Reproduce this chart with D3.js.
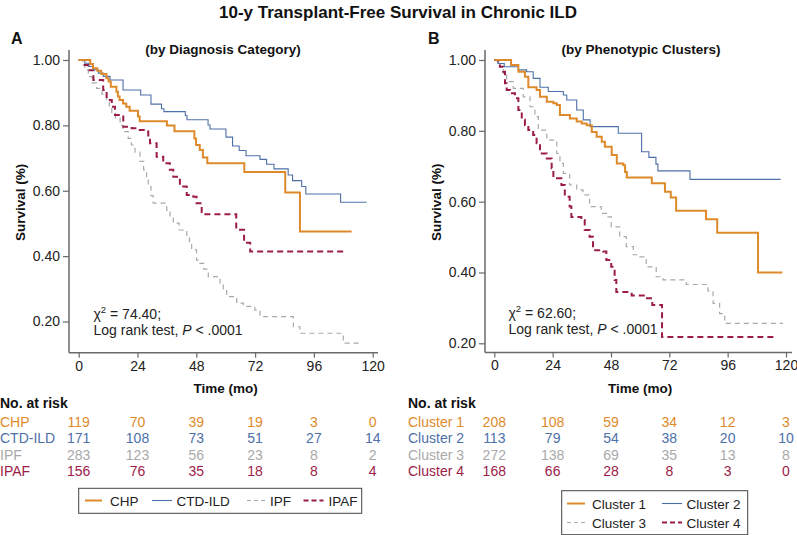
<!DOCTYPE html>
<html><head><meta charset="utf-8">
<script src="https://cdn.jsdelivr.net/npm/d3@7"></script>
<style>
body{margin:0;background:#fff;}
svg{font-family:"Liberation Sans",Arial,Helvetica,sans-serif;}
</style></head>
<body>
<svg id="chart" width="797" height="535"></svg>
<script>
// ---------- DATA ----------
const xTicks = [0, 24, 48, 72, 96, 120];
const yTicks = [0.2, 0.4, 0.6, 0.8, 1.0];

// Panel A (by Diagnosis Category): [month, survival] step points
const chp = [[0,1],[4.7,0.988],[5.8,0.975],[7.6,0.967],[9.2,0.957],[11.3,0.944],[12.2,0.934],[13.1,0.918],[15.4,0.903],[16.0,0.888],[16.7,0.878],[18.1,0.867],[19.4,0.857],[20.8,0.845],[24.2,0.827],[24.9,0.813],[36.0,0.800],[39.1,0.782],[47.2,0.760],[47.9,0.740],[49.4,0.725],[50.7,0.702],[52.5,0.684],[67.6,0.657],[84.3,0.595],[90.3,0.475],[111.4,0.475]];
const ctd = [[0,1],[2.5,0.99],[4.2,0.98],[6.0,0.97],[8.0,0.96],[10.0,0.95],[12.8,0.939],[18.1,0.908],[25.3,0.893],[29.5,0.865],[33.8,0.851],[34.8,0.842],[43.5,0.830],[44.2,0.817],[52.8,0.801],[53.6,0.789],[60.1,0.764],[62.8,0.737],[65.5,0.723],[68.3,0.707],[74.0,0.696],[76.7,0.681],[79.7,0.667],[85.5,0.648],[87.3,0.631],[91.0,0.613],[92.7,0.590],[106.9,0.565],[117.5,0.565]];
const ipf = [[0,1],[1.5,0.985],[2.5,0.97],[3.9,0.949],[5.5,0.93],[7.3,0.913],[9.5,0.895],[11.4,0.878],[12.5,0.857],[13.5,0.837],[15.0,0.822],[16.9,0.800],[18.0,0.781],[20.2,0.760],[21.5,0.740],[23.0,0.718],[25.0,0.690],[26.5,0.664],[27.7,0.643],[28.4,0.613],[29.5,0.585],[30.4,0.562],[35.9,0.541],[37.3,0.520],[38.6,0.501],[41.0,0.480],[44.1,0.460],[45.2,0.440],[46.1,0.419],[48.1,0.388],[49.5,0.378],[51.0,0.360],[52.9,0.337],[57.7,0.317],[59.0,0.297],[60.4,0.276],[64.5,0.256],[67.2,0.246],[71.9,0.235],[74.0,0.215],[87.6,0.184],[90.3,0.164],[108.0,0.134],[114.8,0.134]];
const ipaf = [[0,1],[1.9,0.985],[3.9,0.969],[6.0,0.939],[10.0,0.908],[11.4,0.878],[13.5,0.857],[14.8,0.832],[18.2,0.796],[21.6,0.791],[23.7,0.786],[27.7,0.781],[28.4,0.763],[29.1,0.745],[31.8,0.704],[34.5,0.684],[37.2,0.664],[38.6,0.643],[41.3,0.613],[44.1,0.587],[46.8,0.582],[48.1,0.562],[50.2,0.528],[64.3,0.481],[67.5,0.441],[70.0,0.414],[108.7,0.414]];

// Panel B (by Phenotypic Clusters)
const cl1 = [[0,1],[6.9,0.986],[9.9,0.967],[12.6,0.953],[14.0,0.923],[17.4,0.915],[18.8,0.896],[21.6,0.882],[24.3,0.878],[25.7,0.873],[27.0,0.845],[31.1,0.835],[33.9,0.826],[36.0,0.821],[38.0,0.816],[40.1,0.797],[42.1,0.783],[44.2,0.769],[45.5,0.755],[48.3,0.732],[50.4,0.708],[53.1,0.703],[53.8,0.684],[54.5,0.668],[64.8,0.652],[70.2,0.628],[72.6,0.612],[74.8,0.574],[87.1,0.550],[91.7,0.512],[108.5,0.400],[118.5,0.400]];
const cl2 = [[0,1],[1.5,0.99],[4.1,0.981],[9.9,0.972],[13.3,0.967],[16.0,0.948],[18.8,0.923],[22.2,0.911],[28.4,0.901],[29.8,0.887],[33.9,0.859],[36.6,0.831],[39.4,0.812],[51.0,0.793],[60.6,0.741],[63.6,0.725],[66.5,0.706],[67.3,0.687],[80.5,0.663],[117.8,0.663]];
const cl3 = [[0,1],[1.2,0.99],[2.3,0.981],[3.7,0.958],[5.1,0.939],[7.8,0.920],[11.9,0.896],[14.7,0.868],[16.7,0.840],[18.1,0.802],[21.6,0.774],[25.7,0.736],[27.0,0.708],[28.4,0.680],[31.0,0.647],[33.9,0.633],[36.5,0.619],[39.2,0.586],[44.0,0.567],[46.1,0.557],[48.1,0.529],[51.6,0.501],[54.3,0.473],[57.2,0.450],[59.1,0.444],[62.5,0.416],[66.6,0.388],[69.4,0.379],[79.0,0.366],[87.9,0.348],[90.0,0.313],[92.7,0.284],[94.8,0.256],[118.8,0.256]];
const cl4 = [[0,1],[1.6,0.995],[2.3,0.981],[3.7,0.967],[4.4,0.934],[5.1,0.915],[6.5,0.906],[8.5,0.892],[9.9,0.859],[11.3,0.831],[12.6,0.816],[14.0,0.802],[16.0,0.788],[17.4,0.765],[18.8,0.736],[21.6,0.722],[23.6,0.694],[24.3,0.666],[27.6,0.647],[29.0,0.614],[31.0,0.586],[31.7,0.557],[35.8,0.548],[37.2,0.520],[39.2,0.501],[40.6,0.463],[44.7,0.459],[46.1,0.435],[48.1,0.416],[49.5,0.379],[50.2,0.345],[56.5,0.335],[62.0,0.327],[65.0,0.308],[69.0,0.218],[116.0,0.218]];

// Numbers at risk
const riskA = [
  {label:"CHP", values:[119,70,39,19,3,0]},
  {label:"CTD-ILD", values:[171,108,73,51,27,14]},
  {label:"IPF", values:[283,123,56,23,8,2]},
  {label:"IPAF", values:[156,76,35,18,8,4]}
];
const riskB = [
  {label:"Cluster 1", values:[208,108,59,34,12,3]},
  {label:"Cluster 2", values:[113,79,54,38,20,10]},
  {label:"Cluster 3", values:[272,138,69,35,13,8]},
  {label:"Cluster 4", values:[168,66,28,8,3,0]}
];

// ---------- STYLES ----------
const ORANGE = "#DE8A2B", BLUE = "#4E70A8", GRAY = "#A9A9A9", RED = "#9B1C48";
const styles = [
  {color:ORANGE, width:2, dash:null},
  {color:BLUE, width:1.1, dash:null},
  {color:GRAY, width:1.2, dash:"5,4"},
  {color:RED, width:2, dash:"6,4"}
];
const AXIS = "#6a6a6a", TXT = "#222";

const svg = d3.select("#chart");

svg.append("text").attr("x",398).attr("y",18).attr("text-anchor","middle")
  .attr("font-weight","bold").attr("font-size",17).attr("fill","#111")
  .text("10-y Transplant-Free Survival in Chronic ILD");

function panel(cfg){
  const g = svg.append("g");
  const x = d3.scaleLinear().domain([0,120]).range([cfg.x0, cfg.x120]);
  const y = d3.scaleLinear().domain([0.2,1.0]).range([cfg.y02, cfg.y1]);

  // letter & subtitle
  g.append("text").attr("x",cfg.letterX).attr("y",44).attr("font-weight","bold")
    .attr("font-size",16).attr("fill","#111").text(cfg.letter);
  g.append("text").attr("x",cfg.subX).attr("y",54).attr("text-anchor","middle")
    .attr("font-weight","bold").attr("font-size",13.5).attr("fill","#111").text(cfg.subtitle);

  // axes lines
  g.append("line").attr("x1",cfg.axX).attr("x2",cfg.axX).attr("y1",50).attr("y2",cfg.axY)
    .attr("stroke",AXIS).attr("stroke-width",1.5);
  g.append("line").attr("x1",cfg.axX).attr("x2",cfg.axXEnd).attr("y1",cfg.axY).attr("y2",cfg.axY)
    .attr("stroke",AXIS).attr("stroke-width",1.5);

  // y ticks
  const yAxis = d3.axisLeft(y).tickValues(yTicks).tickFormat(d3.format(".2f")).tickSize(6).tickPadding(3);
  const ya = g.append("g").attr("transform",`translate(${cfg.axX},0)`).call(yAxis);
  ya.select(".domain").remove();
  ya.selectAll("line").attr("stroke",AXIS).attr("stroke-width",1.2);
  ya.selectAll("text").attr("font-size",14).attr("fill",TXT).attr("font-family","Liberation Sans, Arial, sans-serif");

  // x ticks
  const xAxis = d3.axisBottom(x).tickValues(xTicks).tickSize(5).tickPadding(3);
  const xa = g.append("g").attr("transform",`translate(0,${cfg.axY})`).call(xAxis);
  xa.select(".domain").remove();
  xa.selectAll("line").attr("stroke",AXIS).attr("stroke-width",1.2);
  xa.selectAll("text").attr("font-size",14).attr("fill",TXT).attr("font-family","Liberation Sans, Arial, sans-serif");

  // axis titles
  g.append("text").attr("transform",`translate(${cfg.ylabX},${(50+cfg.axY)/2+1}) rotate(-90)`)
    .attr("text-anchor","middle").attr("font-weight","bold").attr("font-size",13.5).attr("fill","#111")
    .text("Survival (%)");
  g.append("text").attr("x",(cfg.x0+cfg.x120)/2).attr("y",393).attr("text-anchor","middle")
    .attr("font-weight","bold").attr("font-size",13.5).attr("fill","#111").text("Time (mo)");

  // curves
  const line = d3.line().x(d=>x(d[0])).y(d=>y(d[1])).curve(d3.curveStepAfter);
  // draw order: IPF/cl3 first, then others
  const order = [2,3,1,0];
  order.forEach(i=>{
    const s = styles[i];
    g.append("path").datum(cfg.series[i]).attr("d",line).attr("fill","none")
      .attr("stroke",s.color).attr("stroke-width",s.width)
      .attr("stroke-dasharray",s.dash).attr("stroke-linejoin","miter");
  });

  // annotation
  const ann = g.append("text").attr("x",cfg.annX).attr("y",cfg.annY).attr("font-size",14).attr("fill",TXT);
  ann.append("tspan").text("χ");
  ann.append("tspan").attr("font-size",9.5).attr("dy",-6).text("2");
  ann.append("tspan").attr("dy",6).text(" = " + cfg.chi + ";");
  const ann2 = g.append("text").attr("x",cfg.annX).attr("y",cfg.annY+16).attr("font-size",14).attr("fill",TXT);
  ann2.append("tspan").text("Log rank test, ");
  ann2.append("tspan").attr("font-style","italic").text("P");
  ann2.append("tspan").text(" < .0001");

  // risk table
  g.append("text").attr("x",cfg.tabX).attr("y",408).attr("font-weight","bold").attr("font-size",14)
    .attr("fill","#111").text("No. at risk");
  cfg.risk.forEach((r,i)=>{
    const yy = 426.5 + i*16.6;
    g.append("text").attr("x",cfg.tabX).attr("y",yy).attr("font-size",14).attr("fill",styles[i].color).text(r.label);
    r.values.forEach((v,j)=>{
      g.append("text").attr("x",x(xTicks[j])).attr("y",yy).attr("text-anchor","middle")
        .attr("font-size",14).attr("fill",styles[i].color).text(v);
    });
  });

  // legend
  const L = cfg.legend;
  g.append("rect").attr("x",L.x).attr("y",L.y).attr("width",L.w).attr("height",L.h)
    .attr("fill","#fff").attr("stroke","#444").attr("stroke-width",1);
  L.items.forEach((it,i)=>{
    const s = styles[i];
    g.append("line").attr("x1",it.lx).attr("x2",it.lx+it.lw).attr("y1",it.y).attr("y2",it.y)
      .attr("stroke",s.color).attr("stroke-width",s.width).attr("stroke-dasharray",s.dash ? (i===2?"4,3":"5,3") : null);
    g.append("text").attr("x",it.tx).attr("y",it.y+5).attr("font-size",13.5).attr("fill",TXT).text(cfg.risk[i].label);
  });
}

panel({
  letter:"A", letterX:11, subtitle:"(by Diagnosis Category)", subX:223,
  x0:78.7, x120:372.7, y02:321.5, y1:60, axX:69, axY:352.7, axXEnd:378,
  ylabX:25, series:[chp,ctd,ipf,ipaf], chi:"74.40", annX:93.5, annY:319,
  tabX:0, risk:riskA,
  legend:{x:78.7,y:488.3,w:283,h:25,items:[
    {lx:85,lw:17,tx:110,y:500.5},
    {lx:152,lw:20,tx:176.5,y:500.5},
    {lx:247,lw:18,tx:270,y:500.5},
    {lx:303.5,lw:20,tx:328.5,y:500.5}]}
});

panel({
  letter:"B", letterX:428, subtitle:"(by Phenotypic Clusters)", subX:641,
  x0:494.3, x120:786, y02:343.3, y1:60, axX:485, axY:352.5, axXEnd:792,
  ylabX:441, series:[cl1,cl2,cl3,cl4], chi:"62.60", annX:508.5, annY:318,
  tabX:408, risk:riskB,
  legend:{x:561.7,y:490.7,w:186,h:44,items:[
    {lx:567,lw:18,tx:592,y:503.5},
    {lx:662,lw:20,tx:686.5,y:503.5},
    {lx:567,lw:18,tx:592,y:522.5},
    {lx:662,lw:20,tx:686.5,y:522.5}]}
});
</script>
</body></html>
